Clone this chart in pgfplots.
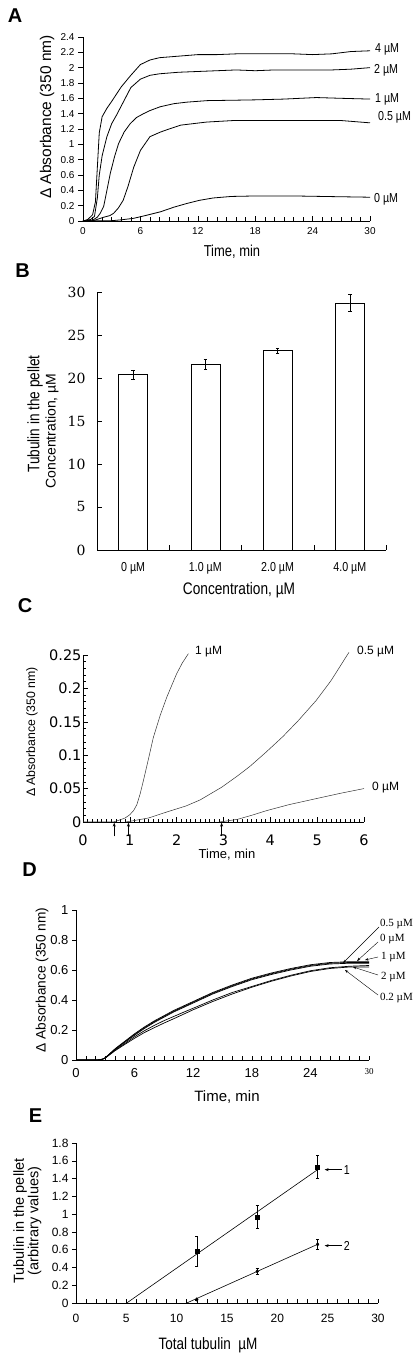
\documentclass[border=0pt]{standalone}
\usepackage{fontspec}
\setmainfont{Liberation Sans}
\newfontfamily\narrow[FakeStretch=0.82]{Liberation Sans}
\newfontfamily\djs{DejaVu Sans}
\newfontfamily\djserif{DejaVu Serif}
\newfontfamily\lserif{Liberation Serif}
\usepackage{pgfplots}
\pgfplotsset{compat=1.18}
\usetikzlibrary{arrows.meta}
\newcommand\fs[1]{\fontsize{#1}{#1}\selectfont}
\pgfplotsset{
  common/.style={
    scale only axis, anchor=south west,
    axis x line*=bottom, axis y line*=left,
    axis line style={-, line width=0.6pt, black},
    tick style={black, line width=0.5pt},
    scaled ticks=false,
    /pgf/number format/assume math mode=true,
    tick label style={/pgf/number format/fixed},
    major tick length=5pt, minor tick length=4pt,
  }
}
\begin{document}
\begin{tikzpicture}[x=1pt,y=1pt]
% panel letters
\node[font=\bfseries\fs{20}, inner sep=0] at (15,1340.5) {A};
\node[font=\bfseries\fs{20}, inner sep=0] at (22.5,1085.5) {B};
\node[font=\bfseries\fs{20}, inner sep=0] at (25,750.5) {C};
\node[font=\bfseries\fs{20}, inner sep=0] at (29.5,486.5) {D};
\node[font=\bfseries\fs{20}, inner sep=0] at (35.5,240.5) {E};

% ---------------- A ----------------
\begin{axis}[common, at={(83pt,1135pt)}, width=287pt, height=184pt,
  xmin=0, xmax=30, ymin=0, ymax=2.4,
  xtick={0,6,12,18,24,30}, minor x tick num=5,
  ytick={0,0.2,0.4,0.6,0.8,1,1.2,1.4,1.6,1.8,2,2.2,2.4},
  xtick align=inside, ytick align=outside,
  tick label style={font=\fs{10}},
  xticklabel style={yshift=-3pt},
  clip=false]
\addplot[black, line width=0.8pt] coordinates {(0,0) (0.5,0.02) (1.0,0.08) (1.3,0.25) (1.5,0.7) (1.7,1.15) (2.0,1.36) (2.5,1.47) (3,1.56) (4,1.75) (5,1.9) (6,2.04) (7,2.1) (8,2.13) (10,2.15) (12,2.17) (14,2.17) (16,2.18) (18,2.18) (20,2.18) (22,2.18) (24,2.17) (26,2.18) (28,2.21) (30,2.22)};
\addplot[black, line width=0.8pt] coordinates {(0,0) (0.8,0.02) (1.2,0.06) (1.5,0.3) (1.7,0.6) (2.0,0.85) (2.5,1.1) (3,1.27) (3.5,1.38) (4,1.5) (5,1.74) (6,1.85) (7,1.9) (8,1.92) (9,1.93) (10,1.94) (12,1.95) (14,1.96) (16,1.97) (18,1.96) (20,1.97) (22,1.97) (24,1.97) (26,1.97) (28,1.98) (30,2.0)};
\addplot[black, line width=0.8pt] coordinates {(0,0) (1.0,0.01) (1.5,0.05) (1.8,0.1) (2.16,0.19) (2.5,0.4) (2.85,0.62) (3.3,0.84) (3.72,1.01) (4.3,1.16) (4.94,1.27) (5.6,1.35) (6.33,1.40) (7,1.44) (8.07,1.49) (9.5,1.53) (10.86,1.55) (13,1.57) (15.7,1.575) (18,1.58) (21,1.59) (24.4,1.61) (27,1.60) (30,1.59)};
\addplot[black, line width=0.8pt] coordinates {(0,0) (1.1,0.005) (1.7,0.03) (2.2,0.05) (2.8,0.07) (3.2,0.1) (3.7,0.17) (4.2,0.27) (4.7,0.45) (5.3,0.7) (6,0.92) (7,1.1) (8.1,1.16) (9,1.2) (10.2,1.25) (12.9,1.29) (15.7,1.31) (19,1.31) (22.7,1.31) (27,1.31) (30,1.28)};
\addplot[black, line width=0.8pt] coordinates {(0,0) (2.9,0.003) (4,0.015) (5.3,0.035) (6.5,0.07) (8.1,0.12) (9.5,0.18) (10.9,0.23) (12.2,0.27) (13.6,0.3) (15.5,0.32) (17.5,0.325) (20,0.327) (22.7,0.325) (26,0.318) (30,0.31)};
\end{axis}
\node[anchor=west, font=\narrow\fs{13}, inner sep=0] at (375,1307) {4 µM};
\node[anchor=west, font=\narrow\fs{13}, inner sep=0] at (374,1286) {2 µM};
\node[anchor=west, font=\narrow\fs{13}, inner sep=0] at (375,1257) {1 µM};
\node[anchor=west, font=\narrow\fs{13}, inner sep=0] at (378,1239) {0.5 µM};
\node[anchor=west, font=\narrow\fs{13}, inner sep=0] at (374,1157) {0 µM};
\node[rotate=90, font=\fs{15.5}, inner sep=0] at (47,1239) {Δ Absorbance (350 nm)};
\node[font=\narrow\fs{15.8}, inner sep=0] at (232,1104) {Time, min};

% ---------------- B ----------------
\begin{axis}[common, at={(97pt,806pt)}, width=289pt, height=258pt,
  xmin=-0.5, xmax=3.5, ymin=0, ymax=30,
  xtick={0,1,2,3}, xticklabels={0 µM, 1.0 µM, 2.0 µM, 4.0 µM},
  major x tick style={draw=none},
  minor xtick={0.5,1.5,2.5,3.5},
  ytick={0,5,10,15,20,25,30},
  xtick align=inside, ytick align=inside,
  minor tick length=5pt,
  xticklabel style={font=\narrow\fs{13}, yshift=-9pt},
  yticklabel style={font=\djserif\fs{14}, xshift=-8pt}]
\addplot[ybar, bar width=29pt, fill=white, draw=black, line width=0.6pt,
  error bars/.cd, y dir=both, y explicit,
  error bar style={line width=0.6pt},
  error mark options={rotate=90, mark size=1.8pt, line width=0.6pt}]
  coordinates {(0,20.4) +- (0,0.55) (1,21.6) +- (0,0.58) (2,23.2) +- (0,0.29) (3,28.7) +- (0,1.0)};
\end{axis}
\node[rotate=90, font=\narrow\fs{16.6}, inner sep=0] at (35,942) {Tubulin in the pellet};
\node[rotate=90, font=\fs{14}, inner sep=0] at (52,925) {Concentration, µM};
\node[font=\narrow\fs{16.7}, inner sep=0] at (239,766) {Concentration, µM};

% ---------------- C ----------------
\begin{axis}[common, at={(83pt,534pt)}, width=281pt, height=167pt,
  xmin=0, xmax=6, ymin=0, ymax=0.25,
  xtick={0,1,2,3,4,5,6}, minor x tick num=9,
  ytick={0,0.05,0.1,0.15,0.2,0.25}, minor y tick num=4,
  xtick align=inside, ytick align=inside,
  major tick length=5pt, minor tick length=3pt,
  tick label style={font=\djs\fs{14.5}},
  xticklabel style={yshift=-9pt},
  yticklabel style={xshift=2pt, /pgf/number format/precision=2},
  clip=false]
\addplot[black!80, line width=0.5pt] coordinates {(0,0) (0.65,0) (0.76,0.0025) (0.9,0.006) (1.0,0.011) (1.08,0.017) (1.15,0.026) (1.22,0.042) (1.29,0.062) (1.4,0.095) (1.5,0.126) (1.65,0.16) (1.79,0.187) (2.0,0.222) (2.12,0.238) (2.25,0.252)};
\addplot[black!80, line width=0.5pt] coordinates {(0.9,0) (1.0,0.001) (1.4,0.006) (1.79,0.015) (2.2,0.024) (2.5,0.033) (2.96,0.052) (3.3,0.069) (3.56,0.083) (3.9,0.104) (4.27,0.128) (4.6,0.152) (4.98,0.182) (5.3,0.212) (5.62,0.2475) (5.68,0.254)};
\addplot[black!80, line width=0.5pt] coordinates {(2.9,0) (3.0,0.0008) (3.3,0.004) (3.6,0.01) (3.92,0.017) (4.4,0.026) (4.98,0.035) (5.5,0.043) (6,0.05)};
\draw[-{Stealth[length=4pt,width=3pt]}, line width=0.5pt] (axis cs:0.667,-0.0215) -- (axis cs:0.667,-0.001);
\draw[-{Stealth[length=4pt,width=3pt]}, line width=0.5pt] (axis cs:0.97,-0.0215) -- (axis cs:0.97,-0.001);
\draw[-{Stealth[length=4pt,width=3pt]}, line width=0.5pt] (axis cs:2.96,-0.0215) -- (axis cs:2.96,-0.001);
\end{axis}
\node[anchor=west, font=\fs{12}, inner sep=0] at (195,704) {1 µM};
\node[anchor=west, font=\fs{12}, inner sep=0] at (357,704) {0.5 µM};
\node[anchor=west, font=\fs{12}, inner sep=0] at (372,568) {0 µM};
\node[rotate=90, font=\fs{12.3}, inner sep=0] at (32,624) {Δ Absorbance (350 nm)};
\node[font=\fs{13}, inner sep=0] at (227,501) {Time, min};

% ---------------- D ----------------
\begin{axis}[common, at={(76pt,296pt)}, width=293pt, height=150pt,
  xmin=0, xmax=30, ymin=0, ymax=1,
  xtick={0,6,12,18,24,30}, minor x tick num=5,
  xticklabels={0,6,12,18,24,{\lserif\fs{9}30}},
  ytick={0,0.2,0.4,0.6,0.8,1},
  xtick align=inside, ytick align=outside,
  major tick length=4pt, minor tick length=4pt,
  tick label style={font=\fs{13}},
  xticklabel style={yshift=-5pt}]
\addplot[black, line width=0.7pt] coordinates {(0,0) (2.2,0) (2.7,0.005) (3,0.015) (4,0.075) (5,0.125) (6,0.175) (7,0.22) (8,0.26) (9,0.295) (10,0.33) (11,0.36) (12,0.39) (14,0.45) (16,0.50) (18,0.545) (20,0.58) (22,0.61) (24,0.635) (26,0.65) (28,0.655) (30,0.655)};
\addplot[black, line width=0.7pt] coordinates {(0,0) (2.2,0) (2.7,0.005) (3,0.015) (4,0.072) (5,0.122) (6,0.17) (7,0.215) (8,0.255) (9,0.29) (10,0.325) (11,0.355) (12,0.385) (14,0.445) (16,0.495) (18,0.54) (20,0.575) (22,0.605) (24,0.63) (26,0.645) (28,0.65) (30,0.65)};
\addplot[black, line width=0.7pt] coordinates {(0,0) (2.2,0) (2.7,0.005) (3,0.015) (4,0.07) (5,0.118) (6,0.165) (7,0.21) (8,0.25) (9,0.285) (10,0.32) (11,0.35) (12,0.38) (14,0.44) (16,0.49) (18,0.535) (20,0.57) (22,0.60) (24,0.625) (26,0.64) (28,0.645) (30,0.645)};
\addplot[black, line width=0.7pt] coordinates {(0,0) (2.2,0) (2.7,0.005) (3,0.014) (4,0.066) (5,0.11) (6,0.155) (7,0.195) (8,0.23) (9,0.262) (10,0.29) (11,0.318) (12,0.345) (14,0.40) (16,0.45) (18,0.49) (20,0.53) (22,0.565) (24,0.595) (26,0.615) (28,0.625) (30,0.63)};
\addplot[black, line width=0.7pt] coordinates {(0,0) (2.2,0) (2.7,0.005) (3,0.013) (4,0.062) (5,0.104) (6,0.145) (7,0.183) (8,0.215) (9,0.246) (10,0.275) (11,0.305) (12,0.335) (14,0.39) (16,0.44) (18,0.485) (20,0.525) (22,0.56) (24,0.59) (26,0.61) (28,0.62) (30,0.62)};
\end{axis}
\draw[-{Stealth[length=3.5pt,width=2.5pt]}, line width=0.4pt] (379,429) -- (343,393);
\draw[-{Stealth[length=3.5pt,width=2.5pt]}, line width=0.4pt] (378,414) -- (357,395);
\draw[-{Stealth[length=3.5pt,width=2.5pt]}, line width=0.4pt] (378,399) -- (365,396);
\draw[-{Stealth[length=3.5pt,width=2.5pt]}, line width=0.4pt] (378,381) -- (353,389);
\draw[-{Stealth[length=3.5pt,width=2.5pt]}, line width=0.4pt] (378,361) -- (345,386);
\node[anchor=west, font=\lserif\fs{11}, inner sep=0] at (380,432) {0.5 µM};
\node[anchor=west, font=\lserif\fs{11}, inner sep=0] at (380,417) {0 µM};
\node[anchor=west, font=\lserif\fs{11}, inner sep=0] at (381,399) {1 µM};
\node[anchor=west, font=\lserif\fs{11}, inner sep=0] at (381,379) {2 µM};
\node[anchor=west, font=\lserif\fs{11}, inner sep=0] at (380,358) {0.2 µM};
\node[rotate=90, font=\fs{13.7}, inner sep=0] at (42,376) {Δ Absorbance (350 nm)};
\node[font=\fs{15}, inner sep=0] at (227,259) {Time, min};

% ---------------- E ----------------
\begin{axis}[common, at={(76pt,53pt)}, width=302pt, height=160pt,
  xmin=0, xmax=30, ymin=0, ymax=1.8,
  xtick={0,5,10,15,20,25,30}, minor x tick num=4,
  ytick={0,0.2,0.4,0.6,0.8,1,1.2,1.4,1.6,1.8},
  xtick align=inside, ytick align=outside,
  major tick length=4pt, minor tick length=4pt,
  tick label style={font=\fs{12}},
  xticklabel style={yshift=-8pt},
  clip=false]
\addplot[black, line width=0.6pt] coordinates {(5.04,0) (24,1.5)};
\addplot[black, line width=0.6pt] coordinates {(11,0) (24,0.66)};
\addplot[only marks, mark=square*, mark size=2pt, black,
  error bars/.cd, y dir=both, y explicit,
  error bar style={line width=0.6pt},
  error mark options={rotate=90, mark size=1.5pt, line width=0.6pt}]
  coordinates {(12,0.58) +- (0,0.17) (18,0.97) +- (0,0.125) (24,1.53) +- (0,0.13)};
\addplot[only marks, mark=diamond*, mark size=1.8pt, black,
  error bars/.cd, y dir=both, y explicit,
  error bar style={line width=0.6pt},
  error mark options={rotate=90, mark size=1.5pt, line width=0.6pt}]
  coordinates {(12,0.04) +- (0,0.005) (18,0.355) +- (0,0.03) (24,0.66) +- (0,0.06)};
\draw[-{Stealth[length=4pt,width=3pt]}, line width=0.6pt] (axis cs:26.4,1.5) -- (axis cs:24.7,1.5);
\draw[-{Stealth[length=4pt,width=3pt]}, line width=0.6pt] (axis cs:26.4,0.645) -- (axis cs:24.7,0.645);
\node[anchor=west, font=\narrow\fs{13}, inner sep=0] at (axis cs:26.6,1.5) {1};
\node[anchor=west, font=\narrow\fs{13}, inner sep=0] at (axis cs:26.6,0.645) {2};
\end{axis}
\node[rotate=90, font=\fs{14.5}, inner sep=0, align=center] at (27.5,135) {Tubulin in the pellet\\(arbitrary values)};
\node[font=\narrow\fs{16.5}, inner sep=0] at (208,11) {Total tubulin\ \ µM};
\pgfresetboundingbox
\path[use as bounding box] (0,0) rectangle (416,1356);
\end{tikzpicture}
\end{document}
